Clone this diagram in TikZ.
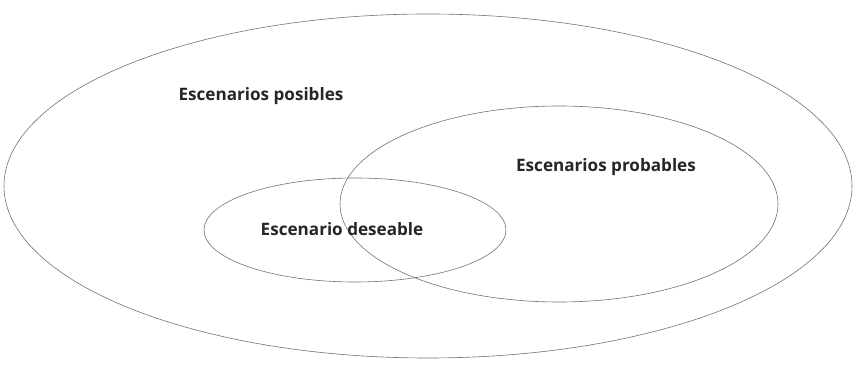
\documentclass[tikz,border=0pt]{standalone}
\usepackage{fontspec}
\setmainfont{Open Sans}
\usetikzlibrary{shapes.geometric}
\begin{document}
\begin{tikzpicture}[x=1pt,y=1pt,
  ell/.style={draw=black!55,line width=0.6pt,ellipse,inner sep=0},
  lbl/.style={font=\fontsize{17.1}{20}\selectfont\bfseries,text=black!85}]
\useasboundingbox[fill=white] (0,0) rectangle (854,369);
\node[ell,minimum width=848,minimum height=344] (posibles) at (428,183) {};
\node[ell,minimum width=438,minimum height=196] (probables) at (559,165) {};
\node[ell,minimum width=302,minimum height=104] (deseable) at (355,139) {};
\node[lbl] (tposibles) at (261,273) {Escenarios posibles};
\node[lbl] (tprobables) at (606,202) {Escenarios probables};
\node[lbl] (tdeseable) at (342,140) {Escenario deseable};
\end{tikzpicture}
\end{document}
